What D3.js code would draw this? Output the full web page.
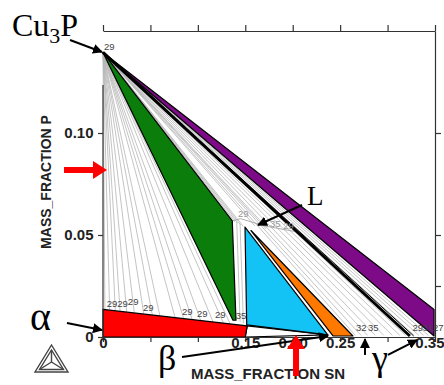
<!DOCTYPE html>
<html>
<head>
<meta charset="utf-8">
<script src="https://cdn.jsdelivr.net/npm/d3@7/dist/d3.min.js"></script>
<style>
  body { margin: 0; background: #fff; }
</style>
</head>
<body>
<div id="chart"></div>
<script>
// isothermal section Cu-P-Sn, mass fraction Sn (x) vs mass fraction P (y)
var cu3p = [0, 0.1395];

// phase regions (sn, p)
var alphaRegion  = [[0, 0.0135], [0.152, 0.0055], [0.150, 0], [0, 0]];
var greenRegion  = [[0, 0.1395], [0.1363, 0.0569], [0.1402, 0.0082], [0.1370, 0.0082]];
var cyanRegion   = [[0.1497, 0.0539], [0.1515, 0.0059], [0.2370, 0.0010]];
var orangeRegion = [[0.1560, 0.0522], [0.2425, 0.0005], [0.2635, 0.0005]];
var purpleRegion = [[0, 0.1395], [0.3490, 0.0135], [0.3490, 0.0005]];
var betaSliver   = [[0.152, 0.0055], [0.2370, 0.0010], [0.150, 0]];

// tie line ends (all start at Cu3P)
var alphaTieSn = [0.002, 0.007, 0.013, 0.018, 0.025, 0.033, 0.043, 0.052, 0.060, 0.076, 0.085, 0.094, 0.103, 0.116, 0.127, 0.134];
var alphaTieP  = [0.0134, 0.0131, 0.0128, 0.0126, 0.0122, 0.0118, 0.0112, 0.0108, 0.0103, 0.0095, 0.0090, 0.0086, 0.0081, 0.0074, 0.0068, 0.0065];
var liquidTieSn = [0.139, 0.142, 0.145, 0.148, 0.160, 0.172];
var liquidTieP  = [0.0565, 0.0558, 0.0550, 0.0542, 0.0545, 0.0530];
var gammaTieSn = [0.266, 0.272, 0.279, 0.287, 0.296, 0.305, 0.313, 0.319];
var upperTieSn = [0.328, 0.333, 0.338, 0.343];
var blackLineEnd = [0.3235, 0.0005];
var thinBlackEnd = [0.3275, 0.0005];
// L + beta strip segments [sn1, p1, sn2, p2]
var betaStrip = [[0.1410, 0.0562, 0.1445, 0.0075], [0.1445, 0.0555, 0.1480, 0.0068]];
var liquidus = [[0.1363, 0.0569], [0.1450, 0.0580], [0.1700, 0.0545], [0.2045, 0.0515]];

// small calculation labels
var tieLabelText = ["29", "29", "29", "29", "29", "29", "29", "29", "35", "32", "35", "29", "31", "27", "29", "35", "29"];
var tieLabelSn   = [0.001, 0.0040, 0.0150, 0.0262, 0.0422, 0.0833, 0.0990, 0.1180, 0.1400, 0.2667, 0.2794, 0.3262, 0.3370, 0.3478, 0.1423, 0.1760, 0.1900];
var tieLabelP    = [0.1407, 0.0147, 0.0147, 0.0157, 0.0127, 0.0108, 0.0098, 0.0093, 0.0088, 0.0029, 0.0029, 0.0029, 0.0029, 0.0029, 0.0588, 0.0539, 0.0530];

// axes
var leftTicks = [0, 0.05, 0.10];
var rightTicks = [0.025, 0.05, 0.10];
var xTicks = [0, 0.05, 0.10, 0.15, 0.20, 0.25, 0.30, 0.35];
var xTickLabels = ["0", "", "", "0.15", "0.20", "0.25", "", "0.35"];
var yTickLabels = ["0", "0.05", "0.10"];

// annotation arrows in data units [sn1, p1, sn2, p2]
var blackArrows = [
  [-0.0348, 0.1456, -0.0011, 0.1397],  // Cu3P
  [0.2098, 0.0647, 0.1634, 0.0549],    // L
  [-0.0380, 0.0069, -0.0011, 0.0034],  // alpha
  [0.0833, -0.0098, 0.2372, 0.0005],   // beta
  [0.2762, -0.0088, 0.2762, -0.0010],  // small up arrow
  [0.3004, -0.0088, 0.3310, -0.0015]   // gamma
];
var redArrows = [
  [-0.0411, 0.0819, 0.0042, 0.0819],
  [0.2035, -0.0191, 0.2035, 0.0010]
];

var w = 444, h = 385;

var x = d3.scaleLinear().domain([0, 0.35]).range([103, 435]);
var y = d3.scaleLinear().domain([0, 0.15]).range([337, 31]);

var svg = d3.select("#chart")
  .append("svg")
  .attr("width", w)
  .attr("height", h)
  .style("font-family", "'Liberation Sans', Arial, sans-serif");

var line = d3.line().x(function(d) { return x(d[0]); }).y(function(d) { return y(d[1]); });

function poly(pts, fill) {
  svg.append("path")
    .attr("d", line(pts) + "Z")
    .attr("fill", fill)
    .attr("stroke", "#000")
    .attr("stroke-width", 1.2)
    .attr("stroke-linejoin", "round");
}

function seg(x1, y1, x2, y2, col, sw) {
  svg.append("line")
    .attr("x1", x(x1)).attr("y1", y(y1))
    .attr("x2", x(x2)).attr("y2", y(y2))
    .attr("stroke", col)
    .attr("stroke-width", sw);
}

// gray tie lines
var tieG = "#b5b5b5";
alphaTieSn.forEach(function(s, i) { seg(cu3p[0], cu3p[1], s, alphaTieP[i], tieG, 0.8); });
liquidTieSn.forEach(function(s, i) { seg(cu3p[0], cu3p[1], s, liquidTieP[i], tieG, 0.8); });
gammaTieSn.forEach(function(s) { seg(cu3p[0], cu3p[1], s, 0.0008, tieG, 0.8); });
upperTieSn.forEach(function(s) { seg(cu3p[0], cu3p[1], s, 0.0008, tieG, 0.8); });
betaStrip.forEach(function(b) { seg(b[0], b[1], b[2], b[3], tieG, 0.8); });
svg.append("path")
  .attr("d", line(liquidus))
  .attr("fill", "none")
  .attr("stroke", "#999")
  .attr("stroke-width", 0.8);

// phase regions
poly(greenRegion, "#0a7d0a");
poly(purpleRegion, "#7d0a87");
poly(betaSliver, "#fff");
poly(alphaRegion, "#ff0000");
poly(cyanRegion, "#14c3f5");
poly(orangeRegion, "#ff7800");

seg(cu3p[0], cu3p[1], thinBlackEnd[0], thinBlackEnd[1], "#000", 1);
seg(cu3p[0], cu3p[1], blackLineEnd[0], blackLineEnd[1], "#000", 3);

// small labels
svg.selectAll("text.tie")
  .data(tieLabelText)
  .enter()
  .append("text")
  .attr("class", "tie")
  .attr("x", function(d, i) { return x(tieLabelSn[i]); })
  .attr("y", function(d, i) { return y(tieLabelP[i]); })
  .attr("font-size", 9.5)
  .attr("fill", function(d, i) { return i >= 14 ? "#999" : "#444"; })
  .text(function(d) { return d; });

// axes
var axisCol = "#333";
var axBottom = svg.append("g")
  .attr("transform", "translate(0," + y(0) + ")")
  .call(d3.axisBottom(x).tickValues(xTicks).tickSize(5).tickSizeOuter(0)
    .tickFormat(function(d, i) { return xTickLabels[i]; }));
var axTop = svg.append("g")
  .attr("transform", "translate(0," + y(0.15) + ")")
  .call(d3.axisTop(x).tickValues(xTicks).tickSize(6).tickSizeOuter(0).tickFormat(""));
var axLeft = svg.append("g")
  .attr("transform", "translate(" + x(0) + ",0)")
  .call(d3.axisLeft(y).tickValues(leftTicks).tickSize(5).tickSizeOuter(0)
    .tickFormat(function(d, i) { return yTickLabels[i]; }));
var axRight = svg.append("g")
  .attr("transform", "translate(" + x(0.35) + ",0)")
  .call(d3.axisRight(y).tickValues(rightTicks).tickSize(6).tickSizeOuter(0).tickFormat(""));

axLeft.select(".domain").remove();
seg(0, 0, 0, 0.1235, axisCol, 1.2);
[axBottom, axTop, axLeft, axRight].forEach(function(g) {
  g.selectAll("path, line").attr("stroke", axisCol).attr("stroke-width", 1.2);
  g.selectAll("text")
    .attr("fill", "#222")
    .attr("font-size", 15)
    .attr("font-weight", "bold")
    .attr("font-family", "'Liberation Sans', Arial, sans-serif");
});
axBottom.selectAll("text").attr("dy", "0.2em");
axBottom.selectAll(".tick").filter(function(d) { return d === 0.35; })
  .select("text").attr("text-anchor", "end").attr("x", 9);
axLeft.selectAll("text").attr("dx", "-0.1em");

svg.append("text")
  .attr("x", 268)
  .attr("y", 379)
  .attr("text-anchor", "middle")
  .attr("font-size", 15)
  .attr("font-weight", "bold")
  .attr("fill", "#222")
  .text("MASS_FRACTION SN");

svg.append("text")
  .attr("transform", "translate(51,182) rotate(-90)")
  .attr("text-anchor", "middle")
  .attr("font-size", 14)
  .attr("font-weight", "bold")
  .attr("fill", "#222")
  .text("MASS_FRACTION P");

// annotation arrows
svg.append("defs").append("marker")
  .attr("id", "head")
  .attr("viewBox", "0 0 10 10")
  .attr("refX", 9).attr("refY", 5)
  .attr("markerWidth", 5).attr("markerHeight", 5)
  .attr("markerUnits", "strokeWidth")
  .attr("orient", "auto")
  .append("path")
  .attr("d", "M0,0L10,5L0,10Z")
  .attr("fill", "#000");

blackArrows.forEach(function(a) {
  svg.append("line")
    .attr("x1", x(a[0])).attr("y1", y(a[1]))
    .attr("x2", x(a[2])).attr("y2", y(a[3]))
    .attr("stroke", "#000")
    .attr("stroke-width", 2)
    .attr("marker-end", "url(#head)");
});

redArrows.forEach(function(a) {
  var x1 = x(a[0]), y1 = y(a[1]), x2 = x(a[2]), y2 = y(a[3]);
  var len = Math.hypot(x2 - x1, y2 - y1);
  var ux = (x2 - x1) / len, uy = (y2 - y1) / len;
  var nx = -uy, ny = ux;
  var sw = 3, hl = 14, hw = 9;
  var bx = x2 - ux * hl, by = y2 - uy * hl;
  var pts = [
    [x1 + nx * sw, y1 + ny * sw], [bx + nx * sw, by + ny * sw], [bx + nx * hw, by + ny * hw],
    [x2, y2],
    [bx - nx * hw, by - ny * hw], [bx - nx * sw, by - ny * sw], [x1 - nx * sw, y1 - ny * sw]
  ];
  svg.append("path")
    .attr("d", "M" + pts.join("L") + "Z")
    .attr("fill", "#ff0000");
});

// big phase labels
var serif = "'Liberation Serif', 'Times New Roman', serif";
var cu = svg.append("text")
  .attr("x", 12).attr("y", 36)
  .attr("font-family", serif)
  .attr("font-size", 32)
  .attr("fill", "#000");
cu.append("tspan").text("Cu");
cu.append("tspan").attr("font-size", 22).attr("dy", 7).text("3");
cu.append("tspan").attr("dy", -7).text("P");

svg.append("text").attr("x", 307).attr("y", 205)
  .attr("font-family", serif).attr("font-size", 27).text("L");
svg.append("text").attr("x", 30).attr("y", 330)
  .attr("font-family", serif).attr("font-size", 40).text("α");
svg.append("text").attr("x", 158).attr("y", 370)
  .attr("font-family", serif).attr("font-size", 36).text("β");
svg.append("text").attr("x", 372).attr("y", 370)
  .attr("font-family", serif).attr("font-size", 36).text("γ");

// Thermo-Calc logo
var logo = svg.append("g").attr("fill", "none").attr("stroke", "#444").attr("stroke-width", 1.4);
logo.append("path").attr("d", "M35,372L68,372L51.5,345Z");
logo.append("path").attr("d", "M39.5,369.5L63.5,369.5L51.5,350Z");
logo.append("path").attr("d", "M51.5,350L51.5,362M51.5,362L39.5,369.5M51.5,362L63.5,369.5");
</script>
</body>
</html>
